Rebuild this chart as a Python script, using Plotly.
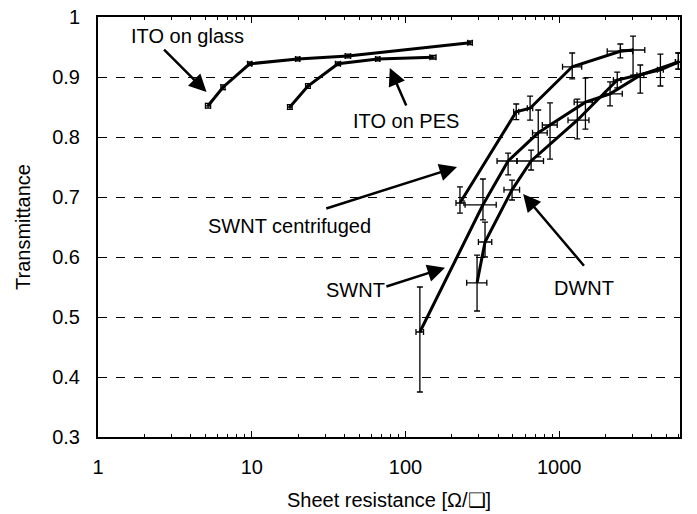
import plotly.graph_objects as go
import numpy as np

# ---------------- data ----------------
ito_glass_x = [5.2, 6.5, 9.7, 19.9, 42.2, 263]
ito_glass_y = [0.852, 0.883, 0.922, 0.930, 0.935, 0.957]
ito_glass_xlo = [5.0, 6.3, 9.4, 19.3, 40.5, 254]
ito_glass_xhi = [5.4, 6.7, 10.0, 20.5, 44.0, 272]
ito_glass_yerr = [0.004, 0.004, 0.003, 0.003, 0.003, 0.003]

ito_pes_x = [17.7, 23.2, 36.4, 66, 151]
ito_pes_y = [0.850, 0.885, 0.922, 0.930, 0.933]
ito_pes_xlo = [17.1, 22.4, 35.0, 64, 144]
ito_pes_xhi = [18.3, 24.0, 37.8, 68, 158]
ito_pes_yerr = [0.004, 0.004, 0.003, 0.003, 0.003]

swc_x = [226, 525, 646, 1214, 2496, 3020]
swc_y = [0.690, 0.842, 0.848, 0.917, 0.943, 0.945]
swc_xlo = [213, 505, 620, 1050, 2050, 2500]
swc_xhi = [240, 545, 672, 1400, 3000, 3600]
swc_ylo = [0.673, 0.829, 0.828, 0.897, 0.932, 0.903]
swc_yhi = [0.717, 0.855, 0.868, 0.940, 0.955, 0.968]

swnt_x = [124, 319, 465, 730, 871, 1480, 2140, 3365, 5950]
swnt_y = [0.475, 0.687, 0.760, 0.807, 0.820, 0.858, 0.872, 0.903, 0.925]
swnt_xlo = [117, 244, 394, 670, 776, 1250, 1990, 3200, 5700]
swnt_xhi = [131, 389, 532, 835, 970, 1640, 2570, 3550, 6150]
swnt_ylo = [0.375, 0.662, 0.737, 0.767, 0.763, 0.813, 0.852, 0.873, 0.913]
swnt_yhi = [0.550, 0.730, 0.773, 0.845, 0.857, 0.898, 0.892, 0.920, 0.940]

dwnt_x = [292, 329, 493, 656, 1310, 2383, 4550, 5950]
dwnt_y = [0.557, 0.625, 0.712, 0.760, 0.828, 0.895, 0.912, 0.925]
dwnt_xlo = [250, 298, 437, 530, 1140, 2250, 4350, 5700]
dwnt_xhi = [338, 364, 552, 790, 1560, 2520, 4750, 6150]
dwnt_ylo = [0.510, 0.600, 0.695, 0.745, 0.797, 0.882, 0.885, 0.913]
dwnt_yhi = [0.603, 0.658, 0.728, 0.778, 0.863, 0.908, 0.938, 0.940]

y_ticks = [0.3, 0.4, 0.5, 0.6, 0.7, 0.8, 0.9, 1.0]
y_tick_labels = ["0.3", "0.4", "0.5", "0.6", "0.7", "0.8", "0.9", "1"]
x_ticks = [1, 10, 100, 1000]
x_tick_labels = ["1", "10", "100", "1000"]
x_minor_ticks = [m * d for d in (1, 10, 100, 1000) for m in range(2, 10) if m * d <= 6000]

FONT = "Liberation Sans, Arial, Helvetica, sans-serif"

fig = go.Figure()


def add_series(x, y, xlo, xhi, ylo, yhi):
    x = np.array(x, float)
    y = np.array(y, float)
    fig.add_trace(go.Scatter(
        x=x, y=y, mode="lines",
        line=dict(color="black", width=3),
        error_x=dict(type="data", symmetric=False,
                     array=np.array(xhi) - x, arrayminus=x - np.array(xlo),
                     color="black", thickness=1.3, width=3),
        error_y=dict(type="data", symmetric=False,
                     array=np.array(yhi) - y, arrayminus=y - np.array(ylo),
                     color="black", thickness=1.3, width=3),
        showlegend=False, hoverinfo="skip"))


add_series(ito_glass_x, ito_glass_y, ito_glass_xlo, ito_glass_xhi,
           np.array(ito_glass_y) - np.array(ito_glass_yerr),
           np.array(ito_glass_y) + np.array(ito_glass_yerr))
add_series(ito_pes_x, ito_pes_y, ito_pes_xlo, ito_pes_xhi,
           np.array(ito_pes_y) - np.array(ito_pes_yerr),
           np.array(ito_pes_y) + np.array(ito_pes_yerr))
add_series(swc_x, swc_y, swc_xlo, swc_xhi, swc_ylo, swc_yhi)
add_series(swnt_x, swnt_y, swnt_xlo, swnt_xhi, swnt_ylo, swnt_yhi)
add_series(dwnt_x, dwnt_y, dwnt_xlo, dwnt_xhi, dwnt_ylo, dwnt_yhi)

# labels: (text, text_x(log10), text_y, tail_x(log10), tail_y, tip_x(log10), tip_y)
labels = [
    ("ITO on glass", 0.58, 0.968, 0.42, 0.948, 0.706, 0.875),
    ("ITO on PES", 2.005, 0.827, 2.009, 0.850, 1.898, 0.915),
    ("SWNT centrifuged", 1.244, 0.652, 1.475, 0.680, 2.335, 0.750),
    ("SWNT", 1.674, 0.545, 1.866, 0.550, 2.257, 0.582),
    ("DWNT", 3.162, 0.548, 3.169, 0.583, 2.765, 0.705),
]
annotations = []
for t, tx, ty, ax_, ay_, hx, hy in labels:
    annotations.append(dict(x=tx, y=ty, xref="x", yref="y", text=t,
                            showarrow=False, font=dict(size=20, color="black", family=FONT)))
    annotations.append(dict(x=hx, y=hy, xref="x", yref="y", ax=ax_, ay=ay_,
                            axref="x", ayref="y", text="", showarrow=True,
                            arrowhead=2, arrowsize=1.4, arrowwidth=2.5,
                            arrowcolor="black", standoff=0, startstandoff=0))

fig.update_layout(
    width=697, height=514,
    margin=dict(l=98, r=17, t=17, b=77),
    paper_bgcolor="white", plot_bgcolor="white",
    font=dict(family=FONT, size=20, color="black"),
    annotations=annotations,
    xaxis=dict(type="log", range=[0, np.log10(6100)], automargin=False,
               tickvals=x_ticks, ticktext=x_tick_labels,
               ticks="inside", ticklen=6, tickwidth=1.3, tickcolor="black",
               minor=dict(tickvals=x_minor_ticks, ticks="inside", ticklen=3,
                          tickwidth=1.2, tickcolor="black", showgrid=False),
               showline=True, linecolor="black", linewidth=2, mirror="ticks",
               showgrid=False, zeroline=False, ticklabelstandoff=11,
               title=dict(text="Sheet resistance [Ω/❑]", standoff=16, font=dict(size=20))),
    yaxis=dict(range=[0.3, 1.0], automargin=False,
               tickvals=y_ticks, ticktext=y_tick_labels,
               ticks="inside", ticklen=6, tickwidth=1.3, tickcolor="black",
               showline=True, linecolor="black", linewidth=2, mirror="ticks",
               showgrid=True, gridcolor="black", gridwidth=1, griddash="dash",
               zeroline=False, ticklabelstandoff=12,
               title=dict(text="Transmittance", standoff=16, font=dict(size=20))),
)

fig.write_html("out.html")
